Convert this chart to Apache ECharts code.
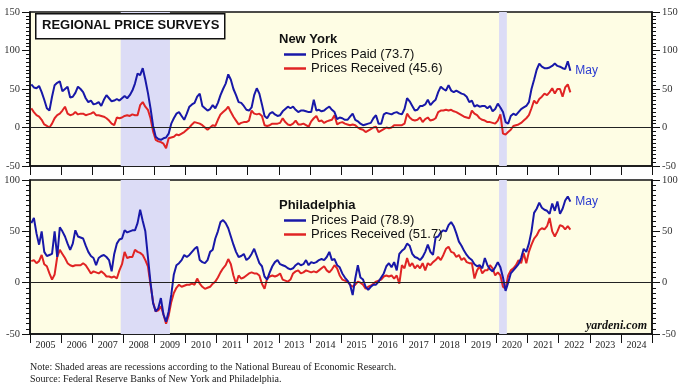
<!DOCTYPE html>
<html><head><meta charset="utf-8">
<script src="https://cdn.jsdelivr.net/npm/echarts@6/dist/echarts.min.js"></script>
<style>html,body{margin:0;padding:0;background:#fff}#c{width:700px;height:391px}</style>
</head><body><div id="c"></div>
<script>
const years = ['2005','2006','2007','2008','2009','2010','2011','2012','2013','2014','2015','2016','2017','2018','2019','2020','2021','2022','2023','2024'];
const startYear = 2005;
const lastMonthLabel = 'May';
const recessions = [[2007.917, 2009.5], [2020.083, 2020.333]];
const topTicks = { min: -50, max: 150, step: 50 };
const botTicks = { min: -50, max: 100, step: 50 };

// New York: Empire State Manufacturing Survey (monthly, Jan 2005 - May 2022)
const nyPaid = [
  56,52,51,54,46,36,25,22,40,55,58,60,
  47,50,53,39,40,45,53,50,46,38,33,35,
  30,31,33,28,36,42,38,34,35,37,35,38,
  41,38,42,48,57,70,68,77,62,45,25,2,
  -12,-15,-16,-14,-13,-8,5,12,18,20,15,10,
  18,27,30,32,40,44,28,25,22,24,29,25,
  32,42,50,57,69,62,50,42,33,32,28,23,
  22,26,42,51,44,30,15,12,18,20,17,15,
  16,21,24,27,25,27,23,20,22,22,21,20,
  20,36,22,23,21,22,25,27,23,20,11,13,
  12,10,10,14,18,10,8,5,3,4,5,6,
  12,16,5,5,17,19,18,17,19,20,18,17,
  24,38,34,28,22,23,28,28,30,36,29,33,
  36,46,53,50,48,55,48,46,48,46,44,43,
  40,33,35,27,29,27,28,28,25,28,21,24,
  31,26,20,7,5,15,18,16,20,24,26,28,
  33,50,62,75,83,79,77,77,78,80,83,80,
  79,77,76,86,73.7
];
const nyReceived = [
  25,20,16,14,10,4,2,0,5,12,16,18,
  22,27,18,16,17,20,17,18,18,16,17,18,
  20,16,16,15,14,12,9,5,3,13,12,13,
  15,16,15,17,16,16,29,33,27,23,12,-5,
  -16,-18,-19,-21,-27,-14,-13,-12,-9,-10,-8,-6,
  -3,0,4,7,6,5,3,0,-3,0,3,2,
  10,17,20,23,27,20,14,9,4,6,7,7,
  9,22,18,17,18,15,3,2,3,5,5,5,
  6,12,7,4,3,5,9,4,4,5,3,1,
  8,12,15,8,9,6,8,9,10,16,4,6,
  7,5,4,3,4,3,0,-2,-3,-6,-4,-2,
  0,1,-6,-4,-2,0,-1,0,3,3,3,3,
  5,18,13,10,9,10,13,7,11,13,9,10,
  12,20,22,22,23,22,23,21,20,18,16,14,
  13,12,22,18,16,12,10,9,7,7,6,5,
  9,17,-8,-9,-6,-3,2,3,4,6,9,12,
  16,25,35,31,37,40,44,42,46,51,44,50,
  50,40,52,56,45.6
];
// Philadelphia: Manufacturing Business Outlook Survey
const phPaid = [
  58,63,48,37,50,30,26,27,28,50,25,54,
  50,45,38,32,38,51,45,44,43,36,30,26,
  24,17,24,26,27,25,22,11,28,38,42,43,
  51,49,50,51,51,58,71,60,50,25,0,-20,
  -28,-25,-15,-31,-38,-28,-12,8,17,19,22,27,
  25,27,30,33,35,22,20,19,22,30,32,43,
  50,59,61,58,53,45,37,30,25,26,28,22,
  24,28,33,26,19,16,6,3,10,16,20,22,
  18,17,16,14,13,14,17,19,17,18,22,17,
  20,19,20,22,23,22,25,30,22,23,17,15,
  9,5,2,-2,-12,4,17,5,3,-4,-7,-4,
  -2,-2,1,5,9,16,19,15,20,12,28,31,
  33,38,36,28,25,24,22,25,30,37,30,27,
  44,45,49,51,50,56,59,55,48,40,36,31,
  27,24,22,18,16,17,14,24,17,13,11,15,
  20,15,5,-8,0,9,12,15,18,24,33,30,
  38,50,68,72,78,73,71,70,67,77,70,79,
  67,72,80,84,78.9
];
const phReceived = [
  21,22,19,21,27,18,16,9,3,8,25,32,
  28,24,19,17,16,17,17,17,19,17,13,9,
  11,10,9,11,9,6,6,5,6,4,12,18,
  30,24,25,25,32,30,29,27,22,16,-2,-19,
  -28,-27,-23,-31,-40,-32,-19,-10,-5,-2,-4,-3,
  -2,-2,-1,-2,4,-1,-4,-6,-5,-4,-1,1,
  5,10,14,17,23,18,7,-1,7,4,5,7,
  9,10,9,9,7,-1,-6,4,6,7,6,7,
  9,3,2,1,3,9,11,12,9,10,12,11,
  10,11,10,12,14,16,12,10,13,17,14,7,
  3,2,1,-2,-4,-2,1,0,-2,-6,-4,-3,
  -1,1,2,3,6,7,6,7,4,7,-1,17,
  14,24,16,19,14,17,14,19,12,19,17,20,
  22,25,22,27,33,35,30,29,25,27,22,24,
  20,19,19,4,12,16,9,12,12,17,14,7,
  10,7,-4,-6,7,12,14,17,22,19,29,19,
  30,37,43,46,51,53,52,55,63,50,45,50,
  56,55,52,55,51.7
];

const BLUE = '#1818a8', RED = '#e02424';
const BG = '#fefde4', REC = '#dcdcf6';
const serif = 'Liberation Serif', sans = 'Liberation Sans';

function toXY(arr){ return arr.map((v,i)=>[startYear + (i+0.5)/12, v]); }
const last = a => a[a.length-1];
const nyPaidName = 'Prices Paid (' + last(nyPaid) + ')';
const nyRecName = 'Prices Received (' + last(nyReceived) + ')';
const phPaidName = 'Prices Paid (' + last(phPaid) + ') ';
const phRecName = 'Prices Received (' + last(phReceived) + ') ';

const G = [{left:30, top:12, width:622, height:154}, {left:30, top:180, width:622, height:154}];

function yAxes(gi, t){
  const base = {
    type:'value', gridIndex:gi, min:t.min, max:t.max, interval:t.step,
    axisLine:{show:true, lineStyle:{color:'#111', width:1.5}},
    axisTick:{show:true, length:8, lineStyle:{color:'#111'}},
    minorTick:{show:true, splitNumber:10, length:4, lineStyle:{color:'#111'}},
    splitLine:{show:false},
    axisLabel:{fontFamily:serif, fontSize:10.5, color:'#333', margin:10}
  };
  return [Object.assign({position:'left'}, base), Object.assign({position:'right'}, base)];
}

const lineSeries = (name, data, color, xi, yi, extra) => Object.assign({
  name, type:'line', data:toXY(data), xAxisIndex:xi, yAxisIndex:yi,
  showSymbol:false, symbol:'none', animation:false,
  lineStyle:{color, width:2}, itemStyle:{color}, z:3
}, extra||{});

const recArea = {
  silent:true, itemStyle:{color:REC},
  data: recessions.map(r=>[{xAxis:r[0]},{xAxis:r[1]}])
};
const zeroLine = {
  silent:true, symbol:'none', label:{show:false},
  lineStyle:{color:'#222', width:1, type:'solid'},
  data:[{yAxis:0}]
};
const endLbl = {show:true, formatter:lastMonthLabel, color:'#2a3ad0', fontFamily:sans, fontSize:12, distance:5};

const catAxis = (gi, showLabel) => ({
  type:'category', gridIndex:gi, data:years, boundaryGap:true, position:'bottom',
  axisLine:{show:true, onZero:false, lineStyle:{color:'#111', width:1.5}},
  axisTick:{show:true, length:9, interval:0, lineStyle:{color:'#111'}},
  axisLabel:{show:showLabel, interval:0, fontFamily:serif, fontSize:10, color:'#222', margin:6}
});

const option = {
  backgroundColor:'#fff',
  animation:false,
  grid: G.map(g=>Object.assign({show:true, backgroundColor:BG, borderColor:'#111', borderWidth:1.5}, g)),
  xAxis: [
    {type:'value', gridIndex:0, min:2005, max:2025, show:false},
    {type:'value', gridIndex:1, min:2005, max:2025, show:false},
    catAxis(0, false),
    catAxis(1, true)
  ],
  yAxis: [...yAxes(0, topTicks), ...yAxes(1, botTicks)],
  legend: [
    {data:[nyPaidName, nyRecName], orient:'vertical', left:279, top:43, icon:'rect',
      itemWidth:22, itemHeight:2.5, itemGap:1, itemStyle:{borderWidth:0},
      textStyle:{fontFamily:sans, fontSize:13, color:'#111'}},
    {data:[phPaidName, phRecName], orient:'vertical', left:279, top:209, icon:'rect',
      itemWidth:22, itemHeight:2.5, itemGap:1, itemStyle:{borderWidth:0},
      textStyle:{fontFamily:sans, fontSize:13, color:'#111'}}
  ],
  graphic: [
    {type:'rect', left:35, top:13, shape:{width:189, height:25}, style:{fill:'#fff', stroke:'#111', lineWidth:1.5}, z:10},
    {type:'text', left:42, top:19, style:{text:'REGIONAL PRICE SURVEYS', font:'bold 13px "Liberation Sans"', fill:'#111'}, z:11},
    {type:'text', left:279, top:33, style:{text:'New York', font:'bold 13px "Liberation Sans"', fill:'#111'}, z:11},
    {type:'text', left:279, top:199, style:{text:'Philadelphia', font:'bold 13px "Liberation Sans"', fill:'#111'}, z:11},
    {type:'text', right:53, top:320, style:{text:'yardeni.com', font:'italic bold 12px "Liberation Serif"', fill:'#111'}, z:11},
    {type:'text', left:30, top:362, style:{text:'Note: Shaded areas are recessions according to the National Bureau of Economic Research.', font:'10px "Liberation Serif"', fill:'#222'}, z:11},
    {type:'text', left:30, top:374, style:{text:'Source: Federal Reserve Banks of New York and Philadelphia.', font:'10px "Liberation Serif"', fill:'#222'}, z:11}
  ],
  series: [
    lineSeries(nyRecName, nyReceived, RED, 0, 0, {markArea:recArea, markLine:zeroLine}),
    lineSeries(nyPaidName, nyPaid, BLUE, 0, 0, {endLabel:endLbl}),
    lineSeries(phRecName, phReceived, RED, 1, 2, {markArea:recArea, markLine:zeroLine}),
    lineSeries(phPaidName, phPaid, BLUE, 1, 2, {endLabel:endLbl})
  ]
};
const chart = echarts.init(document.getElementById('c'), null, {renderer:'canvas'});
chart.setOption(option);
</script></body></html>
